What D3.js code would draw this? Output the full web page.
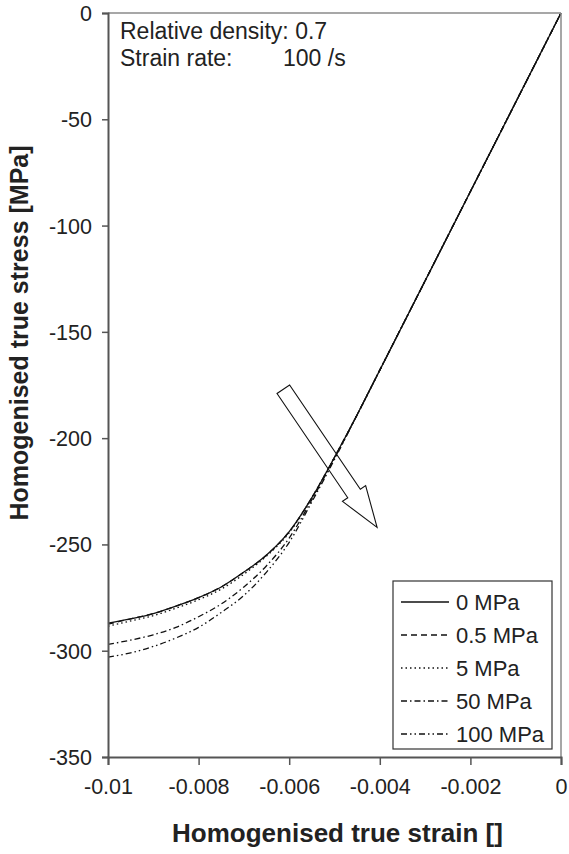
<!DOCTYPE html>
<html>
<head>
<meta charset="utf-8">
<script src="https://cdn.jsdelivr.net/npm/d3@7/dist/d3.min.js"></script>
<style>
  html, body { margin: 0; padding: 0; background: #fff; }
  svg text { font-family: "Liberation Sans", Arial, Helvetica, sans-serif; fill: #222; }
</style>
</head>
<body>
<svg id="chart" width="569" height="854"></svg>
<script>
// Homogenised true strain (ascending) and stress response for each confining pressure
const strain = [-0.01, -0.0095, -0.009, -0.0085, -0.008, -0.0075, -0.007, -0.0065, -0.006, -0.0055, -0.005, -0.0045, -0.004, -0.003, -0.002, -0.001, 0];
const stress0   = [-287, -285, -282.5, -279, -275, -270, -263, -255, -244, -228, -209, -189, -168, -126, -84, -42, 0];
const stress05  = [-287.5, -285, -282.5, -279, -275, -270, -263, -255, -244, -228, -209, -189, -168, -126, -84, -42, 0];
const stress5   = [-288.5, -286, -283.5, -280, -276, -271, -264, -255.5, -244.5, -228, -209, -189, -168, -126, -84, -42, 0];
const stress50  = [-297, -295, -292.5, -289, -284, -278, -270, -260, -247, -229, -209.5, -189, -168, -126, -84, -42, 0];
const stress100 = [-303, -301, -298, -294, -289, -282, -274, -263, -249, -230, -210, -189, -168, -126, -84, -42, 0];

const seriesNames = ["0 MPa", "0.5 MPa", "5 MPa", "50 MPa", "100 MPa"];
const seriesValues = [stress0, stress05, stress5, stress50, stress100];
const dashes = [null, "6,4", "1.5,3", "6,3,1.5,3", "6,3,1.5,3,1.5,3"];

const xTicks = [-0.01, -0.008, -0.006, -0.004, -0.002, 0];
const xTickLabels = ["-0.01", "-0.008", "-0.006", "-0.004", "-0.002", "0"];
const yTicks = [-350, -300, -250, -200, -150, -100, -50, 0];
const yTickLabels = ["-350", "-300", "-250", "-200", "-150", "-100", "-50", "0"];

// Arrow showing the direction of increasing pressure (data coordinates)
const arrowFrom = [-0.00613, -177];
const arrowTo = [-0.00406, -242];

const svg = d3.select("#chart");
const plotLeft = 108, plotRight = 561, plotTop = 13, plotBottom = 757;

const x = d3.scaleLinear().domain([-0.01, 0]).range([plotLeft, plotRight]);
const y = d3.scaleLinear().domain([-350, 0]).range([plotBottom, plotTop]);

const tickFs = 21.5, legendFs = 22, noteFs = 23;

// Arrow (drawn beneath the curves)
(function drawArrow() {
  const x0 = x(arrowFrom[0]), y0 = y(arrowFrom[1]);
  const x1 = x(arrowTo[0]), y1 = y(arrowTo[1]);
  const dx = x1 - x0, dy = y1 - y0, L = Math.hypot(dx, dy);
  const ux = dx / L, uy = dy / L, px = -uy, py = ux;
  const sw = 7.6, hw = 14, hl = 41;
  const bx = x1 - ux * hl, by = y1 - uy * hl;
  const pts = [
    [x0 + px * sw, y0 + py * sw],
    [bx + px * sw, by + py * sw],
    [bx + px * hw, by + py * hw],
    [x1, y1],
    [bx - px * hw, by - py * hw],
    [bx - px * sw, by - py * sw],
    [x0 - px * sw, y0 - py * sw]
  ];
  svg.append("path")
    .attr("d", "M" + pts.map(p => p.join(",")).join("L") + "Z")
    .attr("fill", "#fff").attr("stroke", "#111").attr("stroke-width", 1.1);
})();

// Curves
const line = d3.line()
  .x((d, i) => x(strain[i]))
  .y(d => y(d))
  .curve(d3.curveMonotoneX);

seriesValues.forEach((vals, k) => {
  svg.append("path")
    .datum(vals)
    .attr("d", line)
    .attr("fill", "none")
    .attr("stroke", "#111")
    .attr("stroke-width", 1.3)
    .attr("stroke-dasharray", dashes[k]);
});

// Frame
svg.append("line").attr("x1", plotLeft).attr("x2", plotRight).attr("y1", plotTop).attr("y2", plotTop)
  .attr("stroke", "#8a8a8a").attr("stroke-width", 1.5);
svg.append("line").attr("x1", plotRight).attr("x2", plotRight).attr("y1", plotTop).attr("y2", plotBottom)
  .attr("stroke", "#8a8a8a").attr("stroke-width", 1.5);

// Axes
const xAxis = svg.append("g").attr("transform", `translate(0,${plotBottom})`)
  .call(d3.axisBottom(x).tickValues(xTicks).tickFormat((d, i) => xTickLabels[i]).tickSizeOuter(0).tickSize(8).tickPadding(14));
const yAxis = svg.append("g").attr("transform", `translate(${plotLeft},0)`)
  .call(d3.axisLeft(y).tickValues(yTicks).tickFormat((d, i) => yTickLabels[i]).tickSizeOuter(0).tickSize(6).tickPadding(10));

[xAxis, yAxis].forEach(g => {
  g.select(".domain").attr("stroke", "#555").attr("stroke-width", 2);
  g.selectAll(".tick line").attr("stroke", "#555").attr("stroke-width", 1.5);
  g.selectAll(".tick text").attr("font-size", tickFs).attr("fill", "#222")
    .style("font-family", '"Liberation Sans", Arial, sans-serif');
});
yAxis.selectAll(".tick text").attr("dy", "0.35em");

// Axis titles
svg.append("text")
  .attr("x", (plotLeft + plotRight) / 2 + 3).attr("y", 842)
  .attr("text-anchor", "middle")
  .attr("font-size", 26).attr("font-weight", "bold")
  .text("Homogenised true strain []");
svg.append("text")
  .attr("transform", "translate(28,333) rotate(-90)")
  .attr("text-anchor", "middle")
  .attr("font-size", 25).attr("font-weight", "bold")
  .text("Homogenised true stress [MPa]");

// Annotation
svg.append("text").attr("x", 120).attr("y", 39).attr("font-size", noteFs).text("Relative density: 0.7");
svg.append("text").attr("x", 120).attr("y", 66).attr("font-size", noteFs).text("Strain rate:");
svg.append("text").attr("x", 283).attr("y", 66).attr("font-size", noteFs).text("100 /s");

// Legend
const lg = svg.append("g");
lg.append("rect").attr("x", 393).attr("y", 581).attr("width", 159).attr("height", 168)
  .attr("fill", "#fff").attr("stroke", "#333").attr("stroke-width", 1.2);
seriesNames.forEach((name, k) => {
  const ry = 602 + k * 33;
  lg.append("line").attr("x1", 401).attr("x2", 449).attr("y1", ry).attr("y2", ry)
    .attr("stroke", "#111").attr("stroke-width", 1.3).attr("stroke-dasharray", dashes[k]);
  lg.append("text").attr("x", 456).attr("y", ry + 8).attr("font-size", legendFs).text(name);
});
</script>
</body>
</html>
